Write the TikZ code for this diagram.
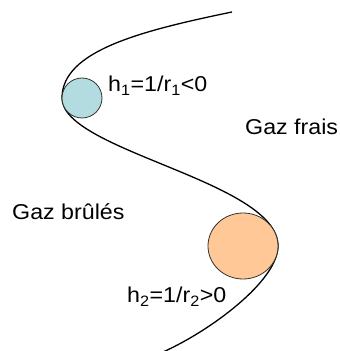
\documentclass[tikz,border=0pt]{standalone}
\usepackage{fontspec}
\setmainfont[FakeStretch=1.08]{Liberation Sans}
\begin{document}
\begin{tikzpicture}[x=1pt,y=1pt,
  lbl/.style={inner sep=0pt,anchor=base west,font=\fontsize{21.5}{24}\selectfont},
  bubble/.style={draw=black!80,line width=0.8pt}]
\useasboundingbox (0,0) rectangle (340,351);
\coordinate (p0) at (232,339);
\coordinate (pl) at (62,253);
\coordinate (pr) at (278,105);
\coordinate (pb) at (163,-1);
\draw[line width=1.3pt] (p0) .. controls (140,320) and (62,300) .. (pl)
  .. controls (62,200) and (278,170) .. (pr)
  .. controls (278,70) and (210,20) .. (pb);
\draw[bubble,fill={rgb,255:red,178;green,220;blue,224}] (82,253) circle[radius=20];
\draw[bubble,fill={rgb,255:red,255;green,200;blue,150}] (243,105) ellipse[x radius=35,y radius=33];
\node[lbl] (h1) at (108,259) {h\textsubscript{1}=1/r\textsubscript{1}<0};
\node[lbl] (gf) at (245,216) {Gaz frais};
\node[lbl] (gb) at (12,131) {Gaz brûlés};
\node[lbl] (h2) at (127,48) {h\textsubscript{2}=1/r\textsubscript{2}>0};
\end{tikzpicture}
\end{document}
